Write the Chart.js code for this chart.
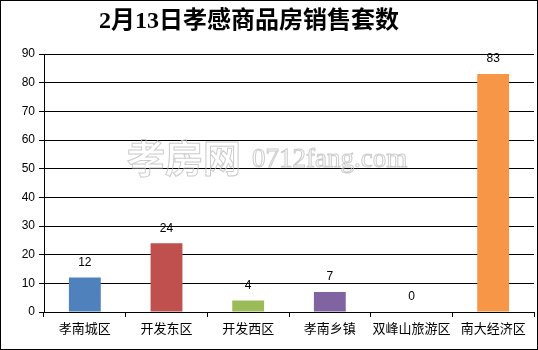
<!DOCTYPE html>
<html><head><meta charset="utf-8">
<script src="https://cdn.jsdelivr.net/npm/chart.js@4/dist/chart.umd.min.js"></script>
<style>html,body{margin:0;padding:0;background:#fff;}#wrap{width:538px;height:350px;}</style>
</head><body><div id="wrap"><canvas id="c" width="538" height="350"></canvas></div>
<script>
const titleText = '2月13日孝感商品房销售套数';
const categories = ['孝南城区','开发东区','开发西区','孝南乡镇','双峰山旅游区','南大经济区'];
const salesUnits = [12, 24, 4, 7, 0, 83];
const barColors = ['#4F81BD','#C0504D','#9BBB59','#8064A2','#4BACC6','#F79646'];
const yTicks = [0,10,20,30,40,50,60,70,80,90];
const watermarkBig = '孝房网';
const watermarkSmall = '0712fang.com';

const decor = {
  id: 'decor',
  beforeDraw(chart) {
    const ctx = chart.ctx;
    ctx.save();
    ctx.fillStyle = '#fff';
    ctx.fillRect(0, 0, chart.width, chart.height);
    ctx.restore();
  },
  afterDatasetsDraw(chart) {
    const ctx = chart.ctx;
    ctx.save();
    // watermark
    ctx.strokeStyle = 'rgba(190,190,190,0.8)';
    ctx.lineWidth = 1;
    ctx.textBaseline = 'middle';
    ctx.textAlign = 'left';
    ctx.font = 'bold 38px "Noto Sans CJK SC"';
    ctx.strokeText(watermarkBig, 127, 158);
    ctx.font = '27px "Liberation Serif"';
    ctx.strokeText(watermarkSmall, 252, 160);
    // data labels
    const meta = chart.getDatasetMeta(0);
    ctx.fillStyle = '#000';
    ctx.font = '12px "Liberation Sans"';
    ctx.textAlign = 'center';
    ctx.textBaseline = 'middle';
    meta.data.forEach((bar, i) => {
      ctx.fillText(String(salesUnits[i]), bar.x, bar.y - 15);
    });
    // title
    ctx.font = 'bold 24px "Liberation Serif", "Noto Sans CJK SC"';
    ctx.fillText(titleText, 249, 22);
    // frame
    ctx.strokeStyle = '#000';
    ctx.lineWidth = 1;
    ctx.strokeRect(0.5, 0.5, 537, 349);
    ctx.restore();
  }
};

new Chart(document.getElementById('c'), {
  type: 'bar',
  data: {
    labels: categories,
    datasets: [{
      data: salesUnits,
      backgroundColor: barColors,
      borderWidth: 0,
      barPercentage: 0.39,
      categoryPercentage: 1.0
    }]
  },
  options: {
    responsive: false,
    animation: false,
    events: [],
    layout: { padding: { top: 54, right: 4, left: 0, bottom: 0 } },
    plugins: { legend: { display: false }, tooltip: { enabled: false }, title: { display: false } },
    scales: {
      x: {
        grid: { display: true, drawOnChartArea: false, color: '#000', tickLength: 5, offset: true },
        border: { color: '#000', width: 1 },
        ticks: { color: '#000', font: { family: '"Noto Sans CJK SC"', size: 13 }, padding: 3, maxRotation: 0, autoSkip: false },
        afterFit(s) { s.height = 38; }
      },
      y: {
        min: 0, max: 90,
        afterBuildTicks(s) { s.ticks = yTicks.map(v => ({ value: v })); },
        grid: { color: '#000', lineWidth: 1, tickLength: 5 },
        border: { color: '#000', width: 1 },
        ticks: { color: '#000', font: { family: '"Liberation Sans"', size: 12 }, padding: 4 },
        afterFit(s) { s.width = 44; }
      }
    }
  },
  plugins: [decor]
});
</script></body></html>
